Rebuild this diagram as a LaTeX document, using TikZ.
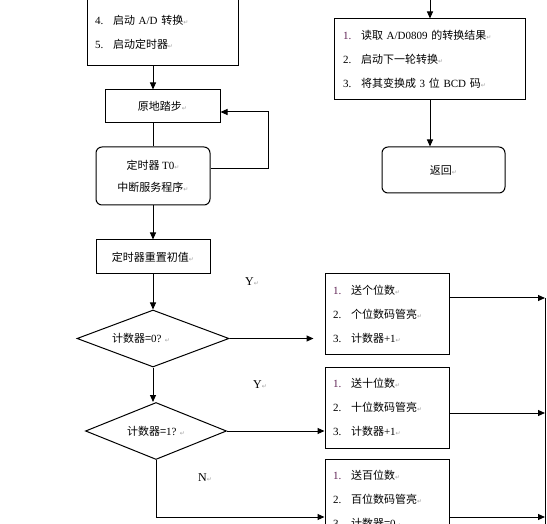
\documentclass[tikz,border=0pt]{standalone}
\usepackage{fontspec}
\setmainfont{Liberation Serif}
\newfontfamily\cjkfont{Noto Sans CJK SC}
\newfontfamily\symfont{DejaVu Sans}
\usepackage{tikz}
\usetikzlibrary{arrows.meta,shapes.geometric}
\usepackage{xcolor}
\definecolor{numpurple}{RGB}{95,35,85}
\definecolor{markgrey}{RGB}{160,160,160}
\newcommand{\lat}[1]{{\rmfamily #1}}
\newcommand{\pmark}{{\symfont\color{markgrey}\fontsize{6}{6}\selectfont ↵}}
\newcommand{\itm}[2]{\makebox[18pt][l]{\rmfamily #1}#2\pmark}

\begin{document}
\begin{tikzpicture}[x=1pt,y=-1pt,line width=1pt,
    arr/.style={-{Triangle[length=7pt,width=6pt]}},
    zh/.style={font=\fontsize{11}{24}\selectfont\cjkfont},
    box/.style={draw,zh,rectangle,inner sep=0pt},
    listbox/.style={box,align=left,inner xsep=8pt,inner ysep=0pt},
    cond/.style={draw,zh,diamond,aspect=2.6,inner sep=0pt},
    lbl/.style={font=\fontsize{12}{12}\selectfont\rmfamily,inner sep=0pt}]
        \useasboundingbox (0,0) rectangle (547,524);
        \clip (0,0) rectangle (547,524);
        \coordinate (leftcol) at (153,0);
        \coordinate (rightcol) at (430,0);
        \coordinate (feed) at (430,-10);
        \coordinate (bus) at (545,298);
        \coordinate (busend) at (545,540);

        \node[listbox,text width=135pt,anchor=south,inner ysep=16pt] (init) at (162.5,66)
          {\mbox{}\\ \mbox{}\\ \mbox{}\\ \itm{4.}{启动 \lat{A/D} 转换}\\ \itm{5.}{启动定时器}};
        \node[box,minimum width=115pt,minimum height=33pt] (stay) at (162.5,106.5) {原地踏步\pmark};
        \node[box,rounded corners=6pt,minimum width=114pt,minimum height=58pt,align=center,
          font=\fontsize{11}{22}\selectfont\cjkfont] (isr) at (153,176)
          {定时器 \lat{T0}\pmark\\中断服务程序\pmark};
        \node[box,minimum width=114pt,minimum height=34pt] (reset) at (153,257) {定时器重置初值\pmark};
        \node[cond,minimum width=152pt,minimum height=57pt] (zero) at (153,338.5)
          {计数器=\lat{0?} \pmark\hspace*{24pt}};
        \node[cond,minimum width=141pt,minimum height=57pt] (one) at (156,431)
          {计数器=\lat{1?} \pmark};

        \node[listbox,text width=108pt,minimum height=80pt] (ones) at (387,314)
          {\itm{\color{numpurple}1.}{送个位数}\\ \itm{2.}{个位数码管亮}\\ \itm{3.}{计数器\lat{+1}}};
        \node[listbox,text width=108pt,minimum height=81pt] (tens) at (387,407.5)
          {\itm{\color{numpurple}1.}{送十位数}\\ \itm{2.}{十位数码管亮}\\ \itm{3.}{计数器\lat{+1}}};
        \node[listbox,text width=108pt,minimum height=81pt] (hund) at (387,499.5)
          {\itm{\color{numpurple}1.}{送百位数}\\ \itm{2.}{百位数码管亮}\\ \itm{3.}{计数器=\lat{0}}};

        \node[listbox,text width=173pt,minimum height=81pt,inner xsep=9pt] (conv) at (429.5,59.5)
          {\itm{\color{numpurple}1.}{读取 \lat{A/D0809} 的转换结果}\\ \itm{2.}{启动下一轮转换}\\
           \itm{3.}{将其变换成 \lat{3} 位 \lat{BCD} 码}};
        \node[box,rounded corners=6pt,minimum width=123pt,minimum height=46pt] (ret) at (443.5,170) {返回\pmark};

        \node[lbl] (yzero) at (252,282) {Y\pmark};
        \node[lbl] (yone) at (260,385) {Y\pmark};
        \node[lbl] (nmark) at (205,478) {N\pmark};

        \coordinate (r1) at ([yshift=16pt]ones.east);
        \coordinate (r2) at ([yshift=-5.5pt]tens.east);
        \coordinate (r3) at ([yshift=-17.5pt]hund.east);
        \coordinate (l3) at ([yshift=-17.5pt]hund.west);

        \draw[arr] (init.south -| leftcol) -- (stay.north -| leftcol);
        \draw (stay.south -| leftcol) -- (isr.north);
        \draw[arr] ([yshift=7pt]isr.east) -- ++(58,0) |- ([yshift=-5.5pt]stay.east);
        \draw[arr] (isr.south) -- (reset.north);
        \draw[arr] (reset.south) -- (zero.north);
        \draw[arr,shorten >=11pt] (zero.east) -- (zero.east -| ones.west);
        \draw[arr] (zero.south) -- (zero.south |- one.north);
        \draw[arr] (one.east) -- (one.east -| tens.west);
        \draw[arr] (one.south) |- (l3);
        \draw[arr] (r1) -- (r1 -| bus);
        \draw[arr] (r2) -- (r2 -| bus);
        \draw[arr] (r3) -- (r3 -| bus);
        \draw (bus) -- (busend);
        \draw[arr] (feed) -- (conv.north -| feed);
        \draw[arr] (conv.south -| rightcol) -- (ret.north -| rightcol);
\end{tikzpicture}
\end{document}
